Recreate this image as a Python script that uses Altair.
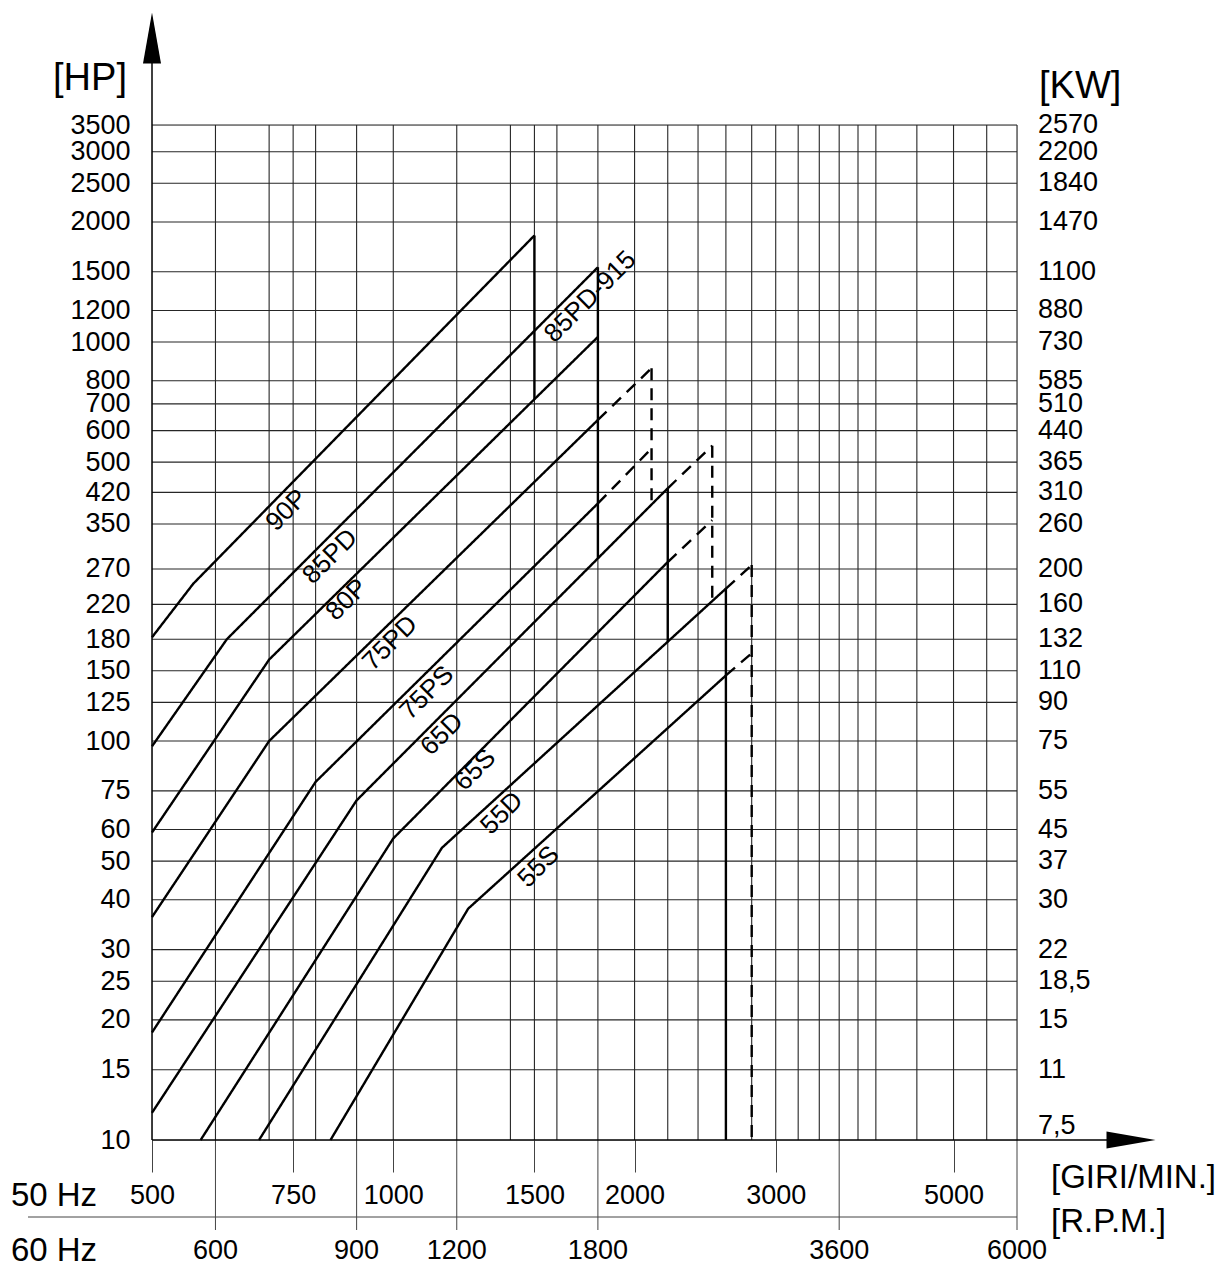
import altair as alt
import pandas as pd

FONT = "Liberation Sans"
W, H = 865, 1015

# ---- axis tick values / labels ----
HP_TICKS = [10, 15, 20, 25, 30, 40, 50, 60, 75, 100, 125, 150, 180, 220, 270,
            350, 420, 500, 600, 700, 800, 1000, 1200, 1500, 2000, 2500, 3000, 3500]
KW_LABELS = ["7,5", "11", "15", "18,5", "22", "30", "37", "45", "55", "75", "90",
             "110", "132", "160", "200", "260", "310", "365", "440", "510", "585",
             "730", "880", "1100", "1470", "1840", "2200", "2570"]
RPM_GRID = [600, 700, 750, 800, 900, 1000, 1200, 1400, 1500, 1600, 1800, 2000,
            2200, 2400, 2600, 2800, 3000, 3200, 3400, 3600, 3800, 4000, 4500,
            5000, 5500, 6000]
RPM_50HZ = [500, 750, 1000, 1500, 2000, 3000, 5000]
RPM_60HZ = [600, 900, 1200, 1800, 3600, 6000]

# ---- pump curves (rpm, HP) ----
CURVES = ["90P", "85PD", "80P", "75PD", "75PS", "65D", "65S", "55D", "55S"]
SOLID_RPM = {
    "90P": [500, 563, 1500],
    "85PD": [500, 620, 1800],
    "80P": [500, 700, 1800],
    "75PD": [500, 700, 1800],
    "75PS": [500, 800, 1800],
    "65D": [500, 900, 2200],
    "65S": [575, 1000, 2200],
    "55D": [680, 1150, 2600],
    "55S": [835, 1240, 2600],
}
SOLID_HP = {
    "90P": [182, 248, 1850],
    "85PD": [97, 180, 1540],
    "80P": [59, 160, 1030],
    "75PD": [36.2, 100, 638],
    "75PS": [18.6, 79, 394],
    "65D": [11.7, 71, 430],
    "65S": [10, 57, 281],
    "55D": [10, 54, 241],
    "55S": [10, 38, 146],
}
DASHED_RPM = {
    "75PD": [1800, 2100],
    "75PS": [1800, 2100],
    "65D": [2200, 2500],
    "65S": [2200, 2500],
    "55D": [2600, 2800],
    "55S": [2600, 2800],
}
DASHED_HP = {
    "75PD": [638, 860],
    "75PS": [394, 541],
    "65D": [430, 550],
    "65S": [281, 358],
    "55D": [241, 276],
    "55S": [146, 166],
}
# speed-limit verticals
LIMIT_RPM = [1500, 1800, 2100, 2200, 2500, 2600, 2800]
LIMIT_TOP = [1850, 1540, 860, 430, 550, 241, 276]
LIMIT_BOTTOM = [719, 287, 393, 178, 224, 10, 10]
LIMIT_STYLE = ["solid", "solid", "dashed", "solid", "dashed", "solid", "dashed"]

# curve labels
LABEL_TEXT = ["90P", "85PD", "80P", "75PD", "75PS", "65D", "65S", "55D", "55S", "85PD-915"]
LABEL_RPM = [736, 834, 875, 991, 1101, 1150, 1265, 1366, 1518, 1761]
LABEL_HP = [379, 290, 226, 176, 132, 104, 84.6, 65.9, 48.4, 1299]

# ---- build tables ----
rows = []
for name in CURVES:
    for i, (r, h) in enumerate(zip(SOLID_RPM[name], SOLID_HP[name])):
        rows.append({"seg": name + "_s", "style": "solid", "i": i, "rpm": r, "hp": h})
for name in DASHED_RPM:
    for i, (r, h) in enumerate(zip(DASHED_RPM[name], DASHED_HP[name])):
        rows.append({"seg": name + "_d", "style": "dashed", "i": i, "rpm": r, "hp": h})
for k, r in enumerate(LIMIT_RPM):
    rows.append({"seg": "lim%d" % k, "style": LIMIT_STYLE[k], "i": 0, "rpm": r, "hp": LIMIT_TOP[k]})
    rows.append({"seg": "lim%d" % k, "style": LIMIT_STYLE[k], "i": 1, "rpm": r, "hp": LIMIT_BOTTOM[k]})
lines_df = pd.DataFrame(rows)

xs = alt.Scale(type="log", domain=[500, 6000], nice=False)
ys = alt.Scale(type="log", domain=[10, 3500], nice=False)

AX_X = alt.Axis(
    values=RPM_50HZ, format="d", tickSize=32, tickColor="#444444", tickWidth=1,
    domain=False, grid=False, labelFontSize=27, labelFont=FONT, labelColor="black",
    labelPadding=10, labelFlush=False, labelOverlap=False, labelBound=False, title=None)
AX_Y = alt.Axis(
    values=HP_TICKS, format="d", ticks=False, domain=False, grid=False,
    labelFontSize=27, labelFont=FONT, labelColor="black", labelPadding=22,
    labelOverlap=False, labelFlush=False, labelBound=False, title=None)


def X(field):
    return alt.X(field, scale=xs, axis=AX_X)


def Y(field):
    return alt.Y(field, scale=ys, axis=AX_Y)


GRID = "#262626"

vgrid = alt.Chart(pd.DataFrame({"rpm": RPM_GRID})).mark_rule(color=GRID, strokeWidth=1.1).encode(
    x=X("rpm:Q"))

hgrid = alt.Chart(pd.DataFrame({"hp": HP_TICKS[1:]})).mark_rule(color=GRID, strokeWidth=1.1).encode(
    y=Y("hp:Q"))

curves = alt.Chart(lines_df).mark_line(color="black", strokeWidth=2.4).encode(
    x=X("rpm:Q"),
    y=Y("hp:Q"),
    detail="seg:N",
    order="i:Q",
    strokeDash=alt.StrokeDash("style:N", scale=alt.Scale(domain=["solid", "dashed"],
                                                          range=[[1, 0], [12, 8]]), legend=None),
)

labels = alt.Chart(pd.DataFrame({"t": LABEL_TEXT, "rpm": LABEL_RPM, "hp": LABEL_HP})).mark_text(
    angle=315, fontSize=26, font=FONT, color="black", align="center", baseline="middle"
).encode(x=X("rpm:Q"), y=Y("hp:Q"), text="t:N")

kw = alt.Chart(pd.DataFrame({"hp": HP_TICKS[1:], "kw": KW_LABELS[1:]})).mark_text(
    align="left", baseline="middle", fontSize=27, font=FONT, color="black"
).encode(x=alt.value(W + 21), y=Y("hp:Q"), text="kw:N")

kw0 = alt.Chart(pd.DataFrame({"hp": HP_TICKS[:1], "kw": KW_LABELS[:1]})).mark_text(
    align="left", baseline="middle", fontSize=27, font=FONT, color="black", dy=-14
).encode(x=alt.value(W + 21), y=Y("hp:Q"), text="kw:N")

t60 = alt.Chart(pd.DataFrame({"rpm": RPM_60HZ})).mark_rule(color="#444444", strokeWidth=1).encode(
    x=X("rpm:Q"), y=alt.value(H), y2=alt.value(H + 90))
l60 = alt.Chart(pd.DataFrame({"rpm": RPM_60HZ})).mark_text(
    baseline="top", align="center", fontSize=27, font=FONT, color="black").encode(
    x=X("rpm:Q"), y=alt.value(H + 98), text=alt.Text("rpm:Q", format="d"))

one = pd.DataFrame({"a": [0]})
yline = alt.Chart(one).mark_rule(color="black", strokeWidth=1.5).encode(
    x=alt.value(0), y=alt.value(-65), y2=alt.value(H))
xline = alt.Chart(one).mark_rule(color="black", strokeWidth=1.5).encode(
    y=alt.value(H), x=alt.value(0), x2=alt.value(958))
sep = alt.Chart(one).mark_rule(color="#444444", strokeWidth=1).encode(
    y=alt.value(1092), x=alt.value(-124), x2=alt.value(W))
up_arrow = alt.Chart(one).mark_point(
    shape="M0,-1L0.353,1L-0.353,1Z", filled=True, size=2601, color="black", opacity=1, strokeWidth=0
).encode(x=alt.value(0), y=alt.value(-87))
right_arrow = alt.Chart(one).mark_point(
    shape="M1,0L-1,-0.347L-1,0.347Z", filled=True, size=2401, color="black", opacity=1, strokeWidth=0
).encode(x=alt.value(979), y=alt.value(H))


def txt(t, x, y, size, align="center"):
    return alt.Chart(pd.DataFrame({"t": [t]})).mark_text(
        font=FONT, fontSize=size, align=align, baseline="middle", color="black"
    ).encode(text="t:N", x=alt.value(x), y=alt.value(y))


titles = [
    txt("[HP]", -62, -46, 38),
    txt("[KW]", 887, -38, 38, "left"),
    txt("50 Hz", -98, 1071, 33),
    txt("60 Hz", -98, 1126, 33),
    txt("[GIRI/MIN.]", 899, 1053, 33, "left"),
    txt("[R.P.M.]", 899, 1097, 33, "left"),
]

chart = alt.layer(
    vgrid, hgrid, t60, l60, sep, curves, labels, kw, kw0, yline, xline, up_arrow, right_arrow, *titles
).properties(
    width=W, height=H,
    autosize=alt.AutoSizeParams(type="none"),
    padding={"left": 144, "top": 117, "right": 198, "bottom": 135},
).configure_view(stroke=None).configure(background="white")

chart.save("out.html", embed_options={"renderer": "svg", "actions": False})
